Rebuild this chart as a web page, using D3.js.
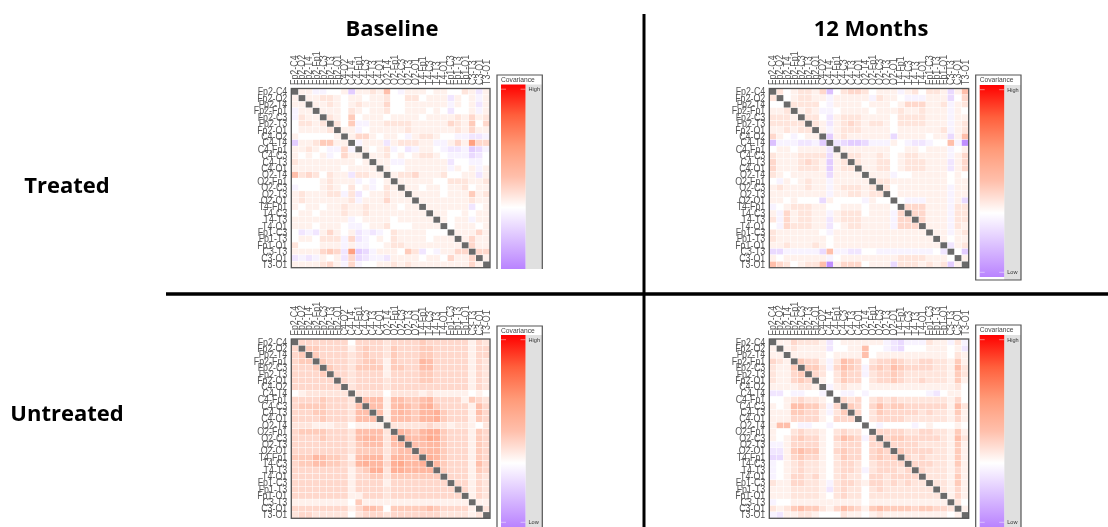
<!DOCTYPE html>
<html>
<head>
<meta charset="utf-8">
<script src="https://cdn.jsdelivr.net/npm/d3@7"></script>
<style>
html,body{margin:0;padding:0;background:#fff;overflow:hidden}
svg{display:block;filter:blur(0.7px)}
</style>
</head>
<body>
<svg id="chart" width="1108" height="527"></svg>
<script>
const channels = ["Fp2-C4","Fp2-O2","Fp2-T4","Fp2-Fp1","Fp2-C3","Fp2-T3","Fp2-O1","C4-O2","C4-T4","C4-Fp1","C4-C3","C4-T3","C4-O1","O2-T4","O2-Fp1","O2-C3","O2-T3","O2-O1","T4-Fp1","T4-C3","T4-T3","T4-O1","Fp1-C3","Fp1-T3","Fp1-O1","C3-T3","C3-O1","T3-O1"];
const columnTitles = ["Baseline","12 Months"];
const rowTitles = ["Treated","Untreated"];

// Upper triangles. Low = -10, white = 0, High = 20.
const treatedBaseline = [
[1,1,-1,-1,0,0,1,-4,1,1,2,1,5,0,-1,1,1,1,0,1,1,0,0,2,1,-2,1],
[1,1,2,2,1,0,1,1,0,1,1,2,0,0,2,2,0,1,1,1,-2,1,0,1,-1,1],
[1,1,2,1,0,1,2,1,1,1,3,0,0,1,1,1,1,1,1,-1,1,0,1,-2,1],
[1,1,1,0,2,1,0,1,1,2,0,0,1,1,1,0,1,0,-2,0,0,1,-1,1],
[2,1,0,4,0,1,1,1,0,1,1,1,1,0,1,1,1,1,2,1,3,1,2],
[2,0,4,-1,-1,1,1,2,2,2,2,1,1,1,1,1,3,2,1,4,0,3],
[1,1,-1,0,1,1,1,1,1,2,1,1,1,1,1,1,2,1,3,1,1],
[1,3,3,1,0,1,1,0,-1,1,2,2,1,0,0,-1,-1,-2,-2,-1],
[-1,1,1,1,-2,1,2,2,2,1,1,-1,-1,1,3,1,9,3,3],
[1,0,1,2,-1,0,-2,-1,1,1,0,-1,-2,-2,-1,-4,-3,-1],
[1,1,2,0,1,0,1,2,2,1,0,-1,-1,-1,-3,-2,0],
[1,1,-1,-1,1,1,1,1,1,1,-2,0,0,-1,-1,0],
[1,0,0,1,1,1,1,1,1,-1,1,0,1,-1,1],
[1,2,2,3,1,1,1,2,0,0,1,1,-2,1],
[1,1,1,1,1,0,0,2,2,2,1,1,2],
[1,1,0,1,1,0,1,1,2,0,1,1],
[1,1,1,1,0,1,1,1,4,1,2],
[1,1,1,1,1,1,1,2,1,1],
[1,1,1,1,1,1,-2,0,1],
[1,1,0,0,1,0,1,1],
[1,0,1,1,-1,1,1],
[0,1,1,1,0,1],
[1,1,1,3,1],
[1,3,1,1],
[3,1,1],
[3,3],
[1]
];
const treated12Months = [
[2,0,1,2,2,1,3,-5,0,2,3,3,2,0,1,1,1,-1,1,2,0,2,2,1,-3,1,5],
[0,1,2,2,1,1,-1,1,1,1,1,1,-1,2,1,1,0,-1,-1,-1,1,1,1,-3,0,3],
[2,2,2,2,0,-1,1,1,1,1,0,1,1,1,0,1,3,3,3,1,1,2,-1,1,2],
[1,2,1,-1,-1,0,1,1,1,1,0,1,1,1,2,1,1,2,1,1,1,-1,1,0],
[2,2,0,-2,1,2,2,2,1,1,1,1,0,2,2,2,2,1,1,1,-1,1,1],
[2,1,-2,1,2,3,2,1,2,2,1,0,2,2,2,2,1,1,1,-1,1,2],
[1,-1,1,2,2,2,1,1,1,1,0,1,1,1,1,1,1,2,-1,1,2],
[-4,1,2,1,1,1,1,1,1,-3,1,1,1,1,0,1,1,-3,1,5],
[-2,-3,-4,-4,-3,-1,-1,-1,1,0,-1,-2,-2,-1,0,0,5,-1,-9],
[1,1,1,1,1,1,1,0,0,1,1,0,1,1,1,-1,0,1],
[2,2,1,1,2,1,0,1,2,2,1,1,1,1,-1,1,3],
[2,1,1,2,2,0,1,2,2,2,1,1,1,-2,1,3],
[1,1,2,2,0,1,2,2,2,1,1,1,-2,1,3],
[1,1,1,-1,0,0,1,1,1,1,1,0,1,0],
[2,2,1,1,1,1,1,1,1,1,0,1,1],
[2,0,1,1,1,1,1,1,1,-1,1,1],
[0,1,1,1,1,1,1,1,-1,1,1],
[0,-1,-1,-1,1,1,1,-1,1,-3],
[3,3,3,1,1,1,-1,2,2],
[3,3,1,1,1,-1,2,2],
[3,1,1,1,-1,2,2],
[1,1,1,-1,2,1],
[1,1,-1,1,2],
[1,0,1,1],
[-2,1,2],
[0,-4],
[1]
];
const untreatedBaseline = [
[3,3,3,3,3,3,3,0,3,3,3,3,2,3,3,3,3,4,3,3,3,3,3,3,1,3,2],
[4,4,3,3,3,3,1,3,4,3,3,2,4,3,3,3,4,4,3,3,3,3,3,1,3,3],
[4,3,3,3,3,2,3,4,3,3,2,4,3,3,3,4,4,3,3,3,3,3,1,3,3],
[4,3,3,3,2,3,4,4,3,1,4,3,3,3,6,5,3,3,3,3,3,1,3,2],
[4,3,3,2,4,4,4,4,1,4,4,3,3,5,5,3,3,3,3,3,1,3,2],
[3,3,2,3,3,3,3,1,3,3,3,3,4,4,3,3,3,3,3,1,3,2],
[3,2,3,3,3,3,2,3,3,3,3,4,4,3,3,3,3,3,1,3,2],
[2,3,3,3,3,2,3,3,3,3,3,3,3,3,3,3,3,1,3,2],
[2,2,2,2,0,2,2,2,2,1,2,1,1,1,1,1,0,1,0],
[5,5,5,1,5,5,4,4,5,6,3,3,3,3,1,4,3,2],
[5,5,1,5,6,5,4,6,7,4,3,3,3,3,1,5,3],
[5,1,5,6,5,4,6,6,7,4,3,3,3,1,5,3],
[1,5,5,5,4,6,6,7,4,3,3,3,1,4,3],
[2,2,2,2,2,3,2,2,1,2,2,1,0,2],
[6,5,4,6,7,7,4,3,3,3,1,4,3],
[6,5,6,8,7,4,3,3,3,1,4,3],
[5,5,6,6,4,3,3,3,1,4,3],
[5,6,6,4,3,3,3,1,4,3],
[7,6,4,3,3,3,1,4,3],
[6,4,3,3,3,1,5,3],
[4,3,3,3,1,4,3],
[3,3,3,1,3,2],
[3,3,1,3,2],
[3,1,3,2],
[1,3,2],
[1,1],
[2]
];
const untreated12Months = [
[1,1,3,2,2,2,1,-2,0,1,1,1,1,1,1,-1,-2,-3,-1,-1,-1,2,1,1,-1,2,-1],
[1,2,1,1,1,1,-2,0,0,1,1,5,0,0,-1,-2,-3,0,0,0,1,1,1,0,1,-2],
[1,1,1,1,1,0,1,1,1,1,5,0,1,1,1,1,1,1,1,1,1,1,0,2,1],
[4,3,3,1,-1,2,5,4,3,0,2,3,3,4,3,2,2,3,3,2,2,1,4,1],
[4,4,2,-1,3,5,4,3,-1,3,4,3,5,4,3,3,3,3,2,2,1,5,2],
[3,2,0,2,4,3,3,-1,2,3,3,4,3,2,2,2,2,2,2,1,4,2],
[1,0,2,4,3,3,0,2,3,3,4,3,2,2,3,2,2,2,1,4,1],
[-1,1,2,1,1,0,1,1,1,1,1,1,1,1,1,1,1,1,2,0],
[0,-1,-1,0,-1,0,0,0,0,0,0,0,0,-1,-2,0,1,1,0],
[3,2,3,0,2,3,2,3,2,2,2,2,2,2,2,1,3,0],
[4,3,0,3,5,3,4,4,3,3,3,3,3,3,1,5,2],
[3,0,2,4,3,3,3,3,3,2,3,2,2,1,4,1],
[0,2,3,3,3,3,2,2,2,2,2,2,1,3,1],
[0,-1,0,0,0,0,-1,0,1,0,0,0,1,0],
[3,3,3,3,2,2,3,3,2,2,1,4,1],
[3,4,4,3,3,3,3,3,2,1,5,2],
[3,3,3,3,2,2,2,2,1,4,1],
[4,3,3,3,3,2,2,1,4,1],
[3,2,3,2,2,2,1,4,1],
[3,3,3,2,2,1,4,1],
[3,2,2,2,1,3,1],
[2,2,2,1,4,1],
[2,2,1,4,1],
[2,1,3,1],
[1,3,1],
[2,0],
[1]
];

const svg = d3.select("#chart");
const font = "'Liberation Sans',Arial,sans-serif";
const titleFont = "'Open Sans',sans-serif";

const color = d3.scaleLinear()
  .domain([-10,-5,0,1,5,10,15,20])
  .range(["#b983ff","#dcc1ff","#ffffff","#fff1ec","#ffbfab","#ff9a78","#ff5f3c","#ff0000"]);

const defs = svg.append("defs");
const grad = defs.append("linearGradient").attr("id","ramp").attr("x1",0).attr("x2",0).attr("y1",0).attr("y2",1);
d3.range(20,-10.01,-2.5).forEach(v => grad.append("stop").attr("offset",(20-v)/30).attr("stop-color",color(v)));

const panels = [
 {m:treatedBaseline,   x0:291.3,x1:490,  y0:88.5, y1:267.7, lx:497,  bt:75,  bb:269, barTop:84.5, barBottom:269, closed:false, low:false},
 {m:treated12Months,   x0:769.3,x1:968.7,y0:88.5, y1:267.7, lx:975.7,bt:75,  bb:280, barTop:85,   barBottom:277, closed:true,  low:true},
 {m:untreatedBaseline, x0:291.3,x1:490,  y0:339,  y1:518.3, lx:497,  bt:326, bb:527, barTop:335,  barBottom:527, closed:false, low:true},
 {m:untreated12Months, x0:769.3,x1:968.7,y0:339,  y1:518.3, lx:975.7,bt:325, bb:527, barTop:335,  barBottom:527, closed:false, low:true}
];

panels.forEach(p => {
  const x = d3.scaleBand().domain(channels).range([p.x0,p.x1]).padding(0);
  const y = d3.scaleBand().domain(channels).range([p.y0,p.y1]).padding(0);
  const g = svg.append("g");
  const cells = [];
  p.m.forEach((row,i) => row.forEach((v,k) => {
    const j = i+1+k;
    cells.push({r:channels[i],c:channels[j],v});
    cells.push({r:channels[j],c:channels[i],v});
  }));
  g.selectAll("rect.cell").data(cells).join("rect").attr("class","cell")
    .attr("x",d=>x(d.c)).attr("y",d=>y(d.r))
    .attr("width",x.bandwidth()).attr("height",y.bandwidth())
    .attr("fill",d=>color(d.v)).attr("stroke","#fff").attr("stroke-width",0.35);
  g.selectAll("rect.diag").data(channels).join("rect").attr("class","diag")
    .attr("x",d=>x(d)+0.2).attr("y",d=>y(d)+0.2)
    .attr("width",x.bandwidth()-0.4).attr("height",y.bandwidth()-0.4)
    .attr("fill","#6a6a6a");
  g.append("rect").attr("x",p.x0).attr("y",p.y0).attr("width",p.x1-p.x0).attr("height",p.y1-p.y0)
    .attr("fill","none").attr("stroke","#555").attr("stroke-width",1.3);

  const left = g.append("g").attr("transform",`translate(${p.x0-4},0)`).call(d3.axisLeft(y).tickSize(0).tickPadding(0));
  left.select(".domain").remove();
  left.selectAll("text").attr("font-family",font).attr("font-size",10.6).attr("fill","#555")
    .attr("transform","scale(0.84,1)");
  const top = g.append("g").attr("transform",`translate(0,${p.y0-3.5})`).call(d3.axisTop(x).tickSize(0).tickPadding(0));
  top.select(".domain").remove();
  top.selectAll("text").attr("font-family",font).attr("font-size",10.6).attr("fill","#555")
    .attr("text-anchor","start")
    .attr("transform","rotate(-90) scale(0.84,1)").attr("x",0).attr("y",0).attr("dx",0).attr("dy","0.32em");

  // legend
  const lw = 45.3, bx = p.lx+4, bw = 24.5;
  const l = svg.append("g");
  l.append("rect").attr("x",bx+bw).attr("y",p.barTop).attr("width",lw-4-bw).attr("height",p.bb-p.barTop).attr("fill","#e0e0e0");
  l.append("rect").attr("x",bx).attr("y",p.barTop).attr("width",bw).attr("height",p.barBottom-p.barTop).attr("fill","url(#ramp)");
  const frame = d3.path();
  frame.moveTo(p.lx,p.bb); frame.lineTo(p.lx,p.bt); frame.lineTo(p.lx+lw,p.bt); frame.lineTo(p.lx+lw,p.bb);
  if (p.closed) frame.closePath();
  l.append("path").attr("d",frame.toString()).attr("fill","none").attr("stroke","#555").attr("stroke-width",1.2);
  l.append("text").attr("x",bx).attr("y",p.bt+6.8).text("Covariance")
    .attr("font-family",font).attr("font-size",6.7).attr("fill","#444");
  const yBar = d3.scaleLinear().domain([-10,20]).range([p.barBottom,p.barTop]);
  const hi = yBar(20)+4.7, lo = yBar(-10)-4.7;
  const ticks = [{t:"High",y:hi}];
  if (p.low) ticks.push({t:"Low",y:lo});
  ticks.forEach(d => {
    [[bx,bx+5],[bx+bw-5,bx+bw]].forEach(s => l.append("line").attr("x1",s[0]).attr("x2",s[1]).attr("y1",d.y).attr("y2",d.y).attr("stroke","#fff").attr("stroke-opacity",.75).attr("stroke-width",.6));
    l.append("text").attr("x",bx+bw+3).attr("y",d.y+1.8).text(d.t).attr("font-family",font).attr("font-size",5.6).attr("fill","#333");
  });
});

// titles
const titleX = d3.scaleOrdinal().domain(columnTitles).range([392,871]);
svg.selectAll("text.col").data(columnTitles).join("text").attr("class","col")
  .attr("x",d=>titleX(d)).attr("y",36).attr("text-anchor","middle").text(d=>d)
  .attr("font-family",titleFont).attr("font-weight",700).attr("font-size",22).attr("fill","#000");
const titleY = d3.scaleOrdinal().domain(rowTitles).range([193,421]);
svg.selectAll("text.row").data(rowTitles).join("text").attr("class","row")
  .attr("x",67).attr("y",d=>titleY(d)).attr("text-anchor","middle").text(d=>d)
  .attr("font-family",titleFont).attr("font-weight",700).attr("font-size",22).attr("fill","#000");

// dividers
svg.append("line").attr("x1",644).attr("x2",644).attr("y1",14).attr("y2",527).attr("stroke","#000").attr("stroke-width",3);
svg.append("line").attr("x1",166).attr("x2",1108).attr("y1",294).attr("y2",294).attr("stroke","#000").attr("stroke-width",3.5);
</script>
</body>
</html>
